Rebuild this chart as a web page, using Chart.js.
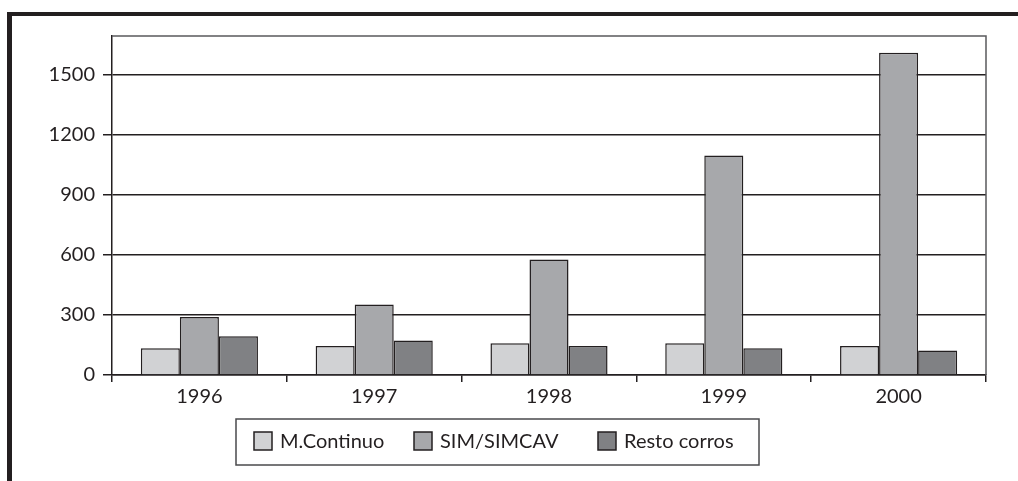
<!DOCTYPE html>
<html>
<head>
<meta charset="utf-8">
<script src="https://cdn.jsdelivr.net/npm/chart.js@4/dist/chart.umd.min.js"></script>
<style>
  html, body { margin: 0; padding: 0; background: #fff; }
  #wrap { position: relative; width: 1018px; height: 481px; overflow: hidden; }
  #frame { position: absolute; left: 7px; top: 12px; right: -10px; bottom: -10px;
           border-top: 4px solid #231f20; border-left: 5px solid #231f20; }
  canvas { position: absolute; left: 0; top: 0; }
</style>
</head>
<body>
<div id="wrap">
  <div id="frame"></div>
  <canvas id="chart" width="1018" height="481"></canvas>
</div>
<script>
// years on the x axis
const years = ['1996', '1997', '1998', '1999', '2000'];

// series
const mContinuo = [133, 145, 158, 158, 145];
const simSimcav = [290, 352, 577, 1095, 1608];
const restoCorros = [193, 172, 145, 133, 122];

const seriesNames = ['M.Continuo', 'SIM/SIMCAV', 'Resto corros'];
const yTicks = [0, 300, 600, 900, 1200, 1500];

const ink = '#231f20';
const fills = ['#d1d2d4', '#a7a8ab', '#808184'];
const FONT = 'Lato, "Open Sans", sans-serif';

// gray frame on top and right of plot area
const plotBox = {
  id: 'plotBox',
  afterDatasetsDraw(chart) {
    const { ctx, chartArea: a } = chart;
    ctx.save();
    ctx.strokeStyle = '#5a5a5c';
    ctx.lineWidth = 1.5;
    ctx.beginPath();
    ctx.moveTo(a.left, a.top);
    ctx.lineTo(a.right, a.top);
    ctx.lineTo(a.right, a.bottom);
    ctx.stroke();
    ctx.restore();
  }
};

// boxed legend under the axis
const boxLegend = {
  id: 'boxLegend',
  afterDraw(chart) {
    const ctx = chart.ctx;
    ctx.save();
    ctx.strokeStyle = '#4a4a4c';
    ctx.lineWidth = 1.5;
    ctx.strokeRect(236, 419, 523, 46);
    const starts = [254, 414, 598];
    ctx.font = '20px ' + FONT;
    ctx.textBaseline = 'middle';
    chart.data.datasets.forEach((ds, i) => {
      const x = starts[i];
      ctx.fillStyle = ds.backgroundColor;
      ctx.fillRect(x, 432, 18, 18);
      ctx.strokeStyle = ink;
      ctx.lineWidth = 1.5;
      ctx.strokeRect(x, 432, 18, 18);
      ctx.fillStyle = ink;
      ctx.fillText(ds.label, x + 26, 442);
    });
    ctx.restore();
  }
};

new Chart(document.getElementById('chart'), {
  type: 'bar',
  data: {
    labels: years,
    datasets: [
      { label: seriesNames[0], data: mContinuo, backgroundColor: fills[0] },
      { label: seriesNames[1], data: simSimcav, backgroundColor: fills[1] },
      { label: seriesNames[2], data: restoCorros, backgroundColor: fills[2] }
    ].map(d => Object.assign(d, {
      borderColor: ink, borderWidth: 1.5, borderSkipped: 'bottom',
      categoryPercentage: 0.67, barPercentage: 1.0
    }))
  },
  options: {
    responsive: false,
    animation: false,
    devicePixelRatio: 1,
    layout: { padding: { top: 36, right: 32, bottom: 75, left: 0 } },
    plugins: { legend: { display: false }, tooltip: { enabled: false } },
    scales: {
      x: {
        offset: true,
        grid: { offset: true, drawOnChartArea: false, drawTicks: true, tickLength: 7,
                color: ink, lineWidth: 1.5 },
        border: { color: ink, width: 1.5 },
        ticks: { color: ink, padding: 3, font: { family: FONT, size: 20 } },
        afterFit(s) { s.height = 31; }
      },
      y: {
        min: 0, max: 1692,
        afterBuildTicks(s) { s.ticks = yTicks.map(v => ({ value: v })); },
        grid: { color: ink, lineWidth: 1.5, tickLength: 9 },
        border: { color: ink, width: 1.5 },
        ticks: { color: ink, padding: 8, font: { family: FONT, size: 20 },
                 callback: v => String(v) },
        afterFit(s) { s.width = 112; }
      }
    }
  },
  plugins: [plotBox, boxLegend]
});
</script>
</body>
</html>
